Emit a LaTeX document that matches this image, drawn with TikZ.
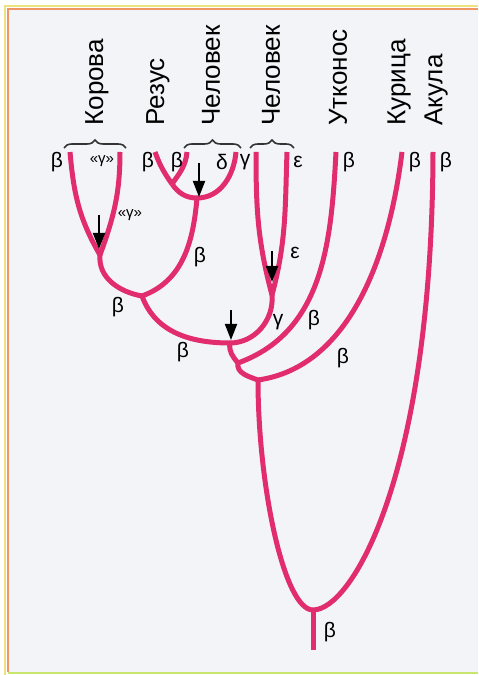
\documentclass[tikz,border=0pt]{standalone}
\usepackage{fontspec}
\setmainfont{Liberation Sans}
\usepackage{tikz}
\usetikzlibrary{arrows.meta, decorations.pathreplacing}
\usepackage{tkz-euclide}
\definecolor{globin}{RGB}{225,45,110}
\definecolor{pagebg}{RGB}{243,244,248}
\definecolor{rim}{RGB}{240,150,100}
\definecolor{rimyellow}{RGB}{236,226,130}
\tikzset{
  branch/.style={globin, line width=2.5pt},
  gene/.style={font=\fontsize{10.5}{12}\selectfont, inner sep=0pt},
  smallgene/.style={font=\fontsize{7.5}{9}\selectfont, inner sep=0pt},
  species/.style={font=\fontsize{13}{15}\selectfont, rotate=90, anchor=west, inner sep=0pt},
  dup/.style={black, line width=0.9pt, -{Triangle[length=8pt, width=6pt]}},
  clade/.style={black!80, line width=0.8pt, decorate, decoration={brace, amplitude=4pt}}
}
\begin{document}
\begin{tikzpicture}[x=0.5pt, y=0.5pt]
            \useasboundingbox (0,0) rectangle (478,675);
            \fill[white] (0,0) rectangle (478,675);
            \fill[pagebg] (8,3) rectangle (478,666);
            \draw[rimyellow, line width=0.8pt] (478,669) -- (5,669) -- (5,0);
            \draw[rim, line width=1.2pt] (478,666) -- (8,666) -- (8,3);
            \draw[rimyellow!85!green, line width=1.2pt] (8,2) -- (478,2);
            \tkzDefPoints{70/523/bCow, 120/523/gCow, 155/523/bRh, 187/523/bHu, 236/523/dHu,
              256/523/gHu, 287/523/eHu, 336/523/bPl, 402/523/bCh, 433/523/bSh}
            \tkzDefPoints{172/491/jRh, 197/477/nRh, 100/420/nCow, 142/379/nA, 272/380/nGE,
              230/332/nB, 238/312/nP, 258/295/nC, 313/65/root, 313/25/stem}
            \tkzDefPoints{258/190/cL1, 284/65/cL2, 432/200/cR1, 352/65/cR2}
            \tkzDefPoints{199/512/tA, 199/478/hA, 99/460/tB, 99/426/hB,
              272/424/tC, 272/393/hC, 231/365/tD, 231/335/hD}
            \draw[branch] (bCow) to[out=-85, in=120] (nCow);
            \draw[branch] (gCow) to[out=-90, in=70] (nCow);
            \draw[branch] (nCow) to[out=-95, in=170] (nA);
            \draw[branch] (bRh) to[out=-70, in=125] (jRh);
            \draw[branch] (jRh) to[out=-55, in=180] (nRh);
            \draw[branch] (bHu) to[out=-95, in=55] (jRh);
            \draw[branch] (dHu) to[out=-95, in=0] (nRh);
            \draw[branch] (nRh) to[out=-95, in=20] (nA);
            \draw[branch] (nA) to[out=-70, in=180] (nB);
            \draw[branch] (gHu) to[out=-90, in=105] (nGE);
            \draw[branch] (eHu) to[out=-92, in=75] (nGE);
            \draw[branch] (nGE) to[out=-85, in=0] (nB);
            \draw[branch] (nB) to[out=-100, in=130] (nP);
            \draw[branch] (bPl) to[out=-93, in=20] (nP);
            \draw[branch] (nP) to[out=-100, in=160] (nC);
            \draw[branch] (bCh) to[out=-97, in=8, out distance=55pt, in distance=45pt] (nC);
            \draw[branch] (nC) .. controls (cL1) and (cL2) .. (root);
            \draw[branch] (bSh) .. controls (cR1) and (cR2) .. (root);
            \draw[branch] (root) -- (stem);
            \draw[dup] (tA) -- (hA);
            \draw[dup] (tB) -- (hB);
            \draw[dup] (tC) -- (hC);
            \draw[dup] (tD) -- (hD);
            \draw[clade] (64,527) -- (126,527);
            \draw[clade] (184,527) -- (241,527);
            \draw[clade] (250,527) -- (294,527);
            \node[species] (cow) at (97,549) {Корова};
            \node[species] (rhesus) at (158,549) {Резус};
            \node[species] (human1) at (211,549) {Человек};
            \node[species] (human2) at (271,549) {Человек};
            \node[species] (platypus) at (338,549) {Утконос};
            \node[species] (chicken) at (399,549) {Курица};
            \node[species] (shark) at (436,549) {Акула};
            \node[gene] (g1) at (57,513) {β};
            \node[smallgene] (g2) at (102,514) {«γ»};
            \node[smallgene] (g3) at (130,460) {«γ»};
            \node[gene] (g4) at (148,513) {β};
            \node[gene] (g5) at (177,513) {β};
            \node[gene] (g6) at (222,513) {δ};
            \node[gene] (g7) at (245,513) {γ};
            \node[gene] (g8) at (298,513) {ε};
            \node[gene] (g9) at (349,513) {β};
            \node[gene] (g10) at (415,513) {β};
            \node[gene] (g11) at (446,513) {β};
            \node[gene] (g12) at (200,418) {β};
            \node[gene] (g13) at (118,368) {β};
            \node[gene] (g14) at (183,323) {β};
            \node[gene] (g15) at (295,422) {ε};
            \node[gene] (g16) at (278,353) {γ};
            \node[gene] (g17) at (314,355) {β};
            \node[gene] (g18) at (343,317) {β};
            \node[gene] (g19) at (330,43) {β};
\end{tikzpicture}
\end{document}
